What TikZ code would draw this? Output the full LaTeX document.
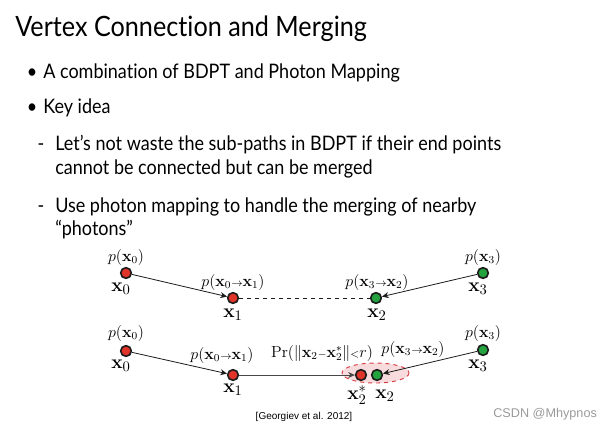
\documentclass[tikz,border=0pt]{standalone}
\usepackage{amsmath}
\usepackage{amssymb}
\usepackage[no-math]{fontspec}
\setmainfont{Lato}[Ligatures={NoCommon}, FakeStretch=0.9]
\newfontfamily\citefont{Liberation Sans}
\usetikzlibrary{arrows.meta,calc}
\definecolor{vcRed}{HTML}{E0342B}
\definecolor{vcGreen}{HTML}{24A23E}
\definecolor{vcPink}{HTML}{F8DCDD}
\definecolor{vcDash}{HTML}{D63C46}
\definecolor{vcInk}{HTML}{1A1A1A}
\definecolor{vcGray}{HTML}{9A9A9A}
\tikzset{
  titletext/.style={anchor=base west, inner sep=0pt, font=\fontsize{21}{25}\selectfont},
  bodytext/.style={anchor=base west, inner sep=0pt, font=\fontsize{15}{18}\selectfont},
  vdot/.style={circle, draw=vcInk, line width=1.2pt, minimum size=8pt, inner sep=0pt},
  plabel/.style={inner sep=0pt, font=\fontsize{12}{14}\selectfont},
  xlabel/.style={inner sep=0pt, font=\fontsize{15}{17}\selectfont},
  edge/.style={-{Stealth[length=5pt,width=4.5pt]}, line width=0.6pt, vcInk}
}
\newcommand{\bx}[1]{\mathbf{x}_{#1}}
\newcommand{\pto}[2]{p(\bx{#1}{\scriptstyle\rightarrow}\bx{#2})}

\begin{document}
\begin{tikzpicture}[x=0.75pt, y=-0.75pt]
    \useasboundingbox (0,0) rectangle (607,429);
    % slide text
    \node[titletext] (title) at (15,36) {Vertex Connection and Merging};
    \node[bodytext, anchor=base] (bul1) at (32,78) {\textbullet};
    \node[bodytext] (item1) at (43,78) {A combination of BDPT and Photon Mapping};
    \node[bodytext, anchor=base] (bul2) at (32,113) {\textbullet};
    \node[bodytext] (item2) at (43,113) {Key idea};
    \node[bodytext, anchor=base] (dash1) at (41,150) {-};
    \node[bodytext] (sub1a) at (55,150) {Let’s not waste the sub-paths in BDPT if their end points};
    \node[bodytext] (sub1b) at (55,174) {cannot be connected but can be merged};
    \node[bodytext, anchor=base] (dash2) at (41,212) {-};
    \node[bodytext] (sub2a) at (55,212) {Use photon mapping to handle the merging of nearby};
    \node[bodytext] (sub2b) at (55,235) {“photons”};

    % vertex connection
    \node[vdot, fill=vcRed] (a0) at (126,273) {};
    \node[vdot, fill=vcRed] (a1) at (233,298) {};
    \node[vdot, fill=vcGreen] (a2) at (376,298) {};
    \node[vdot, fill=vcGreen] (a3) at (483,273) {};
    \draw[edge] (a0) -- (a1);
    \draw[edge] (a3) -- (a2);
    \draw[vcInk, line width=0.6pt, dashed] (a1) -- (a2);
    \node[plabel] (pa0) at (126,257) {$p(\bx{0})$};
    \node[xlabel] (la0) at (121,289) {$\bx{0}$};
    \node[plabel] (pa01) at (233,282) {$\pto{0}{1}$};
    \node[xlabel] (la1) at (233,315) {$\bx{1}$};
    \node[plabel] (pa32) at (377,282) {$\pto{3}{2}$};
    \node[xlabel] (la2) at (377,315) {$\bx{2}$};
    \node[plabel] (pa3) at (483,257) {$p(\bx{3})$};
    \node[xlabel] (la3) at (478,289) {$\bx{3}$};

    % vertex merging
    \draw[vcDash, fill=vcPink, dashed, line width=0.7pt] (375.5,373) ellipse (33.5 and 10);
    \node[vdot, fill=vcRed] (b0) at (126,351) {};
    \node[vdot, fill=vcRed] (b1) at (233,375) {};
    \node[vdot, fill=vcRed] (b2s) at (361,375) {};
    \node[vdot, fill=vcGreen] (b2) at (377,375) {};
    \node[vdot, fill=vcGreen] (b3) at (483,350) {};
    \draw[edge] (b0) -- (b1);
    \draw[edge, vcInk!80] (b1) -- (b2s);
    \draw[edge] (b3) -- (b2);
    \node[plabel] (pb0) at (126,333) {$p(\bx{0})$};
    \node[xlabel] (lb0) at (121,366) {$\bx{0}$};
    \node[plabel] (pb01) at (222,355) {$\pto{0}{1}$};
    \node[xlabel] (lb1) at (233,390) {$\bx{1}$};
    \node[plabel] (pr) at (322,353) {$\Pr(\|\bx{2}{\scriptstyle-}\bx{2}^*\|{\scriptstyle<}r)$};
    \node[plabel] (pb32) at (413,349) {$\pto{3}{2}$};
    \node[xlabel] (lb2s) at (357,395) {$\bx{2}^*$};
    \node[xlabel] (lb2) at (385,396) {$\bx{2}$};
    \node[plabel] (pb3) at (483,333) {$p(\bx{3})$};
    \node[xlabel] (lb3) at (478,366) {$\bx{3}$};

    \node[inner sep=0pt, anchor=base, font=\citefont\fontsize{7.5}{9}\selectfont] (cite) at (304,419) {[Georgiev et al. 2012]};
    \node[inner sep=0pt, anchor=base west, text=vcGray, font=\citefont\fontsize{9.5}{11}\selectfont] (mark) at (493,417) {CSDN @Mhypnos};
\end{tikzpicture}
\end{document}
